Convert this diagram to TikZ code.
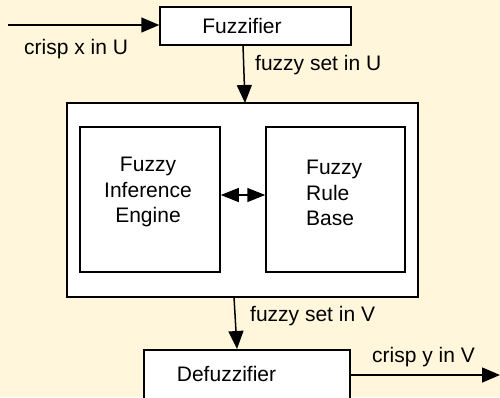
\documentclass[tikz,border=0pt]{standalone}
\usepackage{fontspec}
\setmainfont{Liberation Sans}
\usetikzlibrary{arrows.meta}
\definecolor{bg}{RGB}{255,246,220}
\begin{document}
\begin{tikzpicture}[x=1pt,y=-1pt,
  box/.style={draw=black,fill=white,line width=1.5pt,inner sep=0pt},
  lbl/.style={font=\fontsize{21}{25.5}\selectfont,inner sep=0pt},
  arr/.style={line width=1.5pt,-{Triangle[length=18pt,width=15pt]}},
  darr/.style={line width=1.5pt,{Triangle[length=18pt,width=14pt]}-{Triangle[length=18pt,width=14pt]}}]
\fill[bg] (0,0) rectangle (500,397);
\useasboundingbox (0,0) rectangle (500,397);
\node[box,minimum width=191pt,minimum height=38pt] (fuz) at (255.5,26) {};
\node[lbl] (fuzt) at (242,26) {Fuzzifier};
\node[box,minimum width=351pt,minimum height=194pt] (outer) at (242.5,200) {};
\node[box,minimum width=140pt,minimum height=145pt] (eng) at (150,199.5) {};
\node[box,minimum width=139pt,minimum height=145pt] (rb) at (335.5,199.5) {};
\node[lbl,align=center] (engt) at (148,192) {Fuzzy\\Inference\\Engine};
\node[lbl,align=left,anchor=west] (rbt) at (306,193) {Fuzzy\\Rule\\Base};
\node[box,minimum width=206pt,minimum height=60pt,anchor=north west] (def) at (143,349) {};
\node[lbl] (deft) at (226.5,374) {Defuzzifier};
\coordinate (in) at (8,25);
\coordinate (out) at (500,375);
\draw[arr] (in) -- (fuz.west |- in);
\draw[arr] (243,45) -- (245,103);
\draw[darr] (eng.east |- 0,195) -- (rb.west |- 0,195);
\draw[arr] (234,297) -- (237,349);
\draw[arr] (def.east |- out) -- (out);
\node[lbl,anchor=west] (l1) at (24,49) {crisp x in U};
\node[lbl,anchor=west] (l2) at (255,65) {fuzzy set in U};
\node[lbl,anchor=west] (l3) at (250,316) {fuzzy set in V};
\node[lbl,anchor=west] (l4) at (372,357) {crisp y in V};
\end{tikzpicture}
\end{document}
